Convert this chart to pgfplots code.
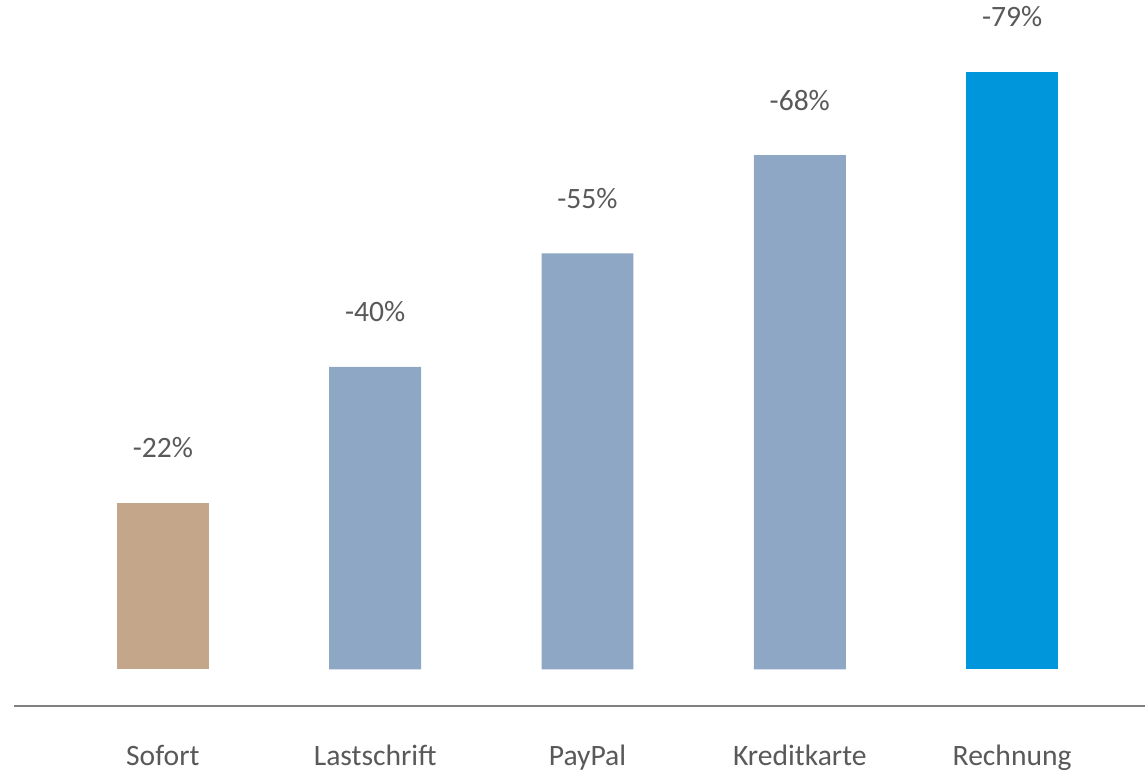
\documentclass[border=0pt]{standalone}
\usepackage{pgfplots}
\pgfplotsset{compat=1.18}
\usepackage{fontspec}
\setmainfont{Carlito}

\definecolor{tan}{HTML}{C4A68B}
\definecolor{steel}{HTML}{8EA7C4}
\definecolor{brightblue}{HTML}{0096DC}
\definecolor{txt}{HTML}{595959}
\definecolor{baseline}{HTML}{808080}

\begin{document}
\begin{tikzpicture}
\begin{axis}[
    scale only axis,
    width=566pt, height=353.5pt,
    xmin=-0.701, xmax=4.626,
    ymin=-4.89, ymax=88.5,
    axis x line*=bottom,
    axis y line=none,
    x axis line style={draw=baseline, line width=1pt},
    ytick=\empty,
    xtick={0,1,2,3,4},
    xticklabels={Sofort,Lastschrift,PayPal,Kreditkarte,Rechnung},
    major tick length=0pt,
    xticklabel style={anchor=base, yshift=-29.5pt, text=txt,
        font=\fontsize{14.8}{17}\selectfont},
    ybar, bar width=46pt, bar shift=0pt,
    every axis plot/.append style={draw=none},
    point meta=explicit symbolic,
    nodes near coords,
    every node near coord/.append style={anchor=center, yshift=27.5pt,
        text=txt, font=\fontsize{14.8}{17}\selectfont},
    clip=false,
]
\addplot[fill=tan] coordinates {(0,22) [-22\%]};
\addplot[fill=steel] coordinates {(1,40) [-40\%] (2,55) [-55\%] (3,68) [-68\%]};
\addplot[fill=brightblue] coordinates {(4,79) [-79\%]};
\path (rel axis cs:-0.0124,-0.0948) rectangle (rel axis cs:1,1);
\end{axis}
\end{tikzpicture}
\end{document}
